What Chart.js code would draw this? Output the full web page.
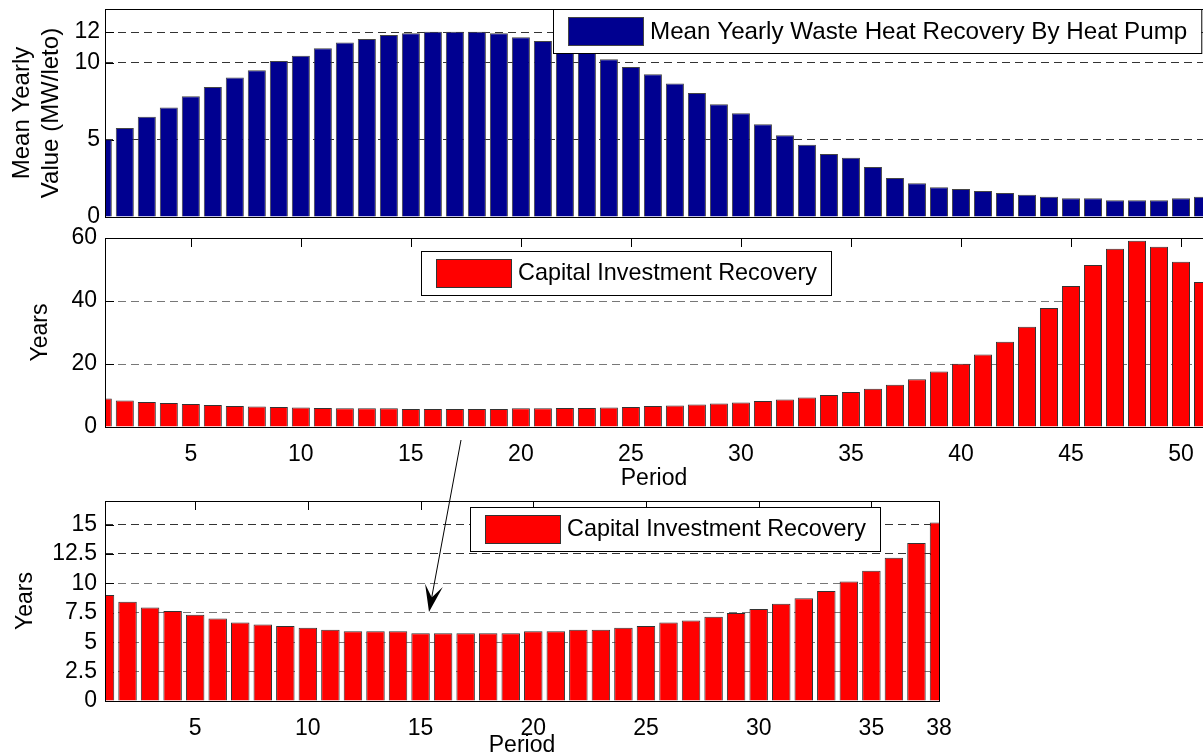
<!DOCTYPE html>
<html>
<head>
<meta charset="utf-8">
<script src="https://cdn.jsdelivr.net/npm/chart.js@4.4.0/dist/chart.umd.min.js"></script>
<style>
html, body { margin: 0; padding: 0; width: 1203px; height: 754px; overflow: hidden; background: #fff; }
canvas { position: absolute; left: 0; top: 0; }
</style>
</head>
<body>
<canvas id="heatChart" width="1203" height="780"></canvas>
<canvas id="recoveryChart" width="1203" height="780"></canvas>
<canvas id="zoomChart" width="1203" height="780"></canvas>
<script>
var periods = [1, 2, 3, 4, 5, 6, 7, 8, 9, 10, 11, 12, 13, 14, 15, 16, 17, 18, 19, 20,
    21, 22, 23, 24, 25, 26, 27, 28, 29, 30, 31, 32, 33, 34, 35, 36, 37, 38, 39, 40,
    41, 42, 43, 44, 45, 46, 47, 48, 49, 50, 51];

// MW/leto
var heatRecovery = [5.05, 5.78, 6.51, 7.10, 7.84, 8.44, 9.05, 9.53, 10.13, 10.47,
    10.95, 11.32, 11.56, 11.82, 11.93, 12.03, 12.03, 12.03, 11.93, 11.67,
    11.43, 11.1, 10.75, 10.24, 9.74, 9.27, 8.66, 8.05, 7.32, 6.73,
    6.02, 5.31, 4.69, 4.09, 3.85, 3.25, 2.53, 2.19, 1.93, 1.82,
    1.69, 1.56, 1.45, 1.32, 1.21, 1.21, 1.08, 1.08, 1.08, 1.21, 1.32];

// years
var capitalRecovery = [9.02, 8.43, 7.95, 7.64, 7.33, 7.02, 6.68, 6.51, 6.37, 6.23,
    6.06, 5.92, 5.92, 5.92, 5.75, 5.75, 5.75, 5.75, 5.75, 5.92,
    5.92, 6.06, 6.06, 6.23, 6.37, 6.68, 6.85, 7.16, 7.47, 7.81,
    8.26, 8.74, 9.36, 10.15, 11.08, 12.18, 13.42, 15.17, 17.6, 20.06,
    23.0, 27.1, 31.8, 37.8, 44.8, 51.4, 56.6, 59.1, 57.2, 52.5, 46.0];

var zoomPeriods = periods.slice(0, 38);
var zoomRecovery = capitalRecovery.slice(0, 38);

var heatTicks = [0, 5, 10, 12];
var yearTicks = [0, 20, 40, 60];
var zoomYearTicks = [0, 2.5, 5, 7.5, 10, 12.5, 15];
var periodTicks = [5, 10, 15, 20, 25, 30, 35, 40, 45, 50];
var zoomPeriodTicks = [5, 10, 15, 20, 25, 30, 35, 38];

var FONT = '"Liberation Sans", Arial, Helvetica, sans-serif';
Chart.defaults.font.family = FONT;
Chart.defaults.color = '#000';

function fixSize(prop, size) {
    return function (scale) {
        scale[prop] = size;
        scale.paddingTop = 0;
        scale.paddingBottom = 0;
        scale.paddingLeft = 0;
        scale.paddingRight = 0;
    };
}

function useTicks(values) {
    return function (scale) {
        scale.ticks = values.map(function (v) { return { value: v }; });
    };
}

function tickText(v) {
    return String(v);
}

// box, inward tick marks, boxed legend and the arrow (matlab look)
var framePlugin = {
    id: 'frame',
    beforeDatasetsDraw: function (chart, args, opts) {
        var a = chart.chartArea, ctx = chart.ctx;
        ctx.save();
        ctx.strokeStyle = '#000';
        ctx.lineWidth = 1;
        ctx.beginPath();
        if (opts.topTicks) {
            opts.topTicks.forEach(function (v) {
                var x = Math.round(chart.scales.x.getPixelForValue(v)) + 0.5;
                ctx.moveTo(x, a.top);
                ctx.lineTo(x, a.top + 9);
            });
        }
        chart.scales.y.ticks.forEach(function (t) {
            var y = Math.round(chart.scales.y.getPixelForValue(t.value)) + 0.5;
            ctx.moveTo(a.left, y);
            ctx.lineTo(a.left + 9, y);
            if (opts.rightTicks) {
                ctx.moveTo(a.right, y);
                ctx.lineTo(a.right - 9, y);
            }
        });
        ctx.stroke();
        ctx.restore();
    },
    afterDatasetsDraw: function (chart, args, opts) {
        var a = chart.chartArea, ctx = chart.ctx;
        ctx.save();
        ctx.strokeStyle = '#000';
        ctx.lineWidth = 1;
        ctx.strokeRect(Math.round(a.left) + 0.5, Math.round(a.top) + 0.5,
            Math.round(a.right - a.left), Math.round(a.bottom - a.top));

        // legend
        var ds = chart.data.datasets[0];
        var lx = opts.legendX, ly = opts.legendY, lh = 44;
        ctx.font = opts.legendFont + 'px ' + FONT;
        var tw = ctx.measureText(ds.label).width;
        var lw = 15 + 75 + 7 + tw + 14;
        ctx.fillStyle = '#fff';
        ctx.fillRect(lx, ly, lw, lh);
        ctx.strokeRect(lx + 0.5, ly + 0.5, lw, lh);
        ctx.fillStyle = ds.backgroundColor;
        ctx.fillRect(lx + 15, ly + 8, 75, 28);
        ctx.strokeStyle = ds.borderColor;
        ctx.strokeRect(lx + 15.5, ly + 8.5, 75, 28);
        ctx.fillStyle = '#000';
        ctx.textBaseline = 'middle';
        ctx.textAlign = 'left';
        ctx.fillText(ds.label, lx + 97, ly + lh / 2 + 1);
        ctx.restore();
    },
    afterDraw: function (chart, args, opts) {
        if (!opts.arrow) return;
        var ctx = chart.ctx;
        var p0 = opts.arrow.from, p1 = opts.arrow.to;
        var dx = p1[0] - p0[0], dy = p1[1] - p0[1];
        var len = Math.sqrt(dx * dx + dy * dy);
        var ux = dx / len, uy = dy / len, nx = -uy, ny = ux;
        var L = 27, W = 9;
        ctx.save();
        ctx.strokeStyle = '#000';
        ctx.fillStyle = '#000';
        ctx.lineWidth = 1;
        ctx.beginPath();
        ctx.moveTo(p0[0], p0[1]);
        ctx.lineTo(p1[0] - ux * 12, p1[1] - uy * 12);
        ctx.stroke();
        ctx.beginPath();
        ctx.moveTo(p1[0], p1[1]);
        ctx.lineTo(p1[0] - ux * L + nx * W, p1[1] - uy * L + ny * W);
        ctx.lineTo(p1[0] - ux * L * 0.55, p1[1] - uy * L * 0.55);
        ctx.lineTo(p1[0] - ux * L - nx * W, p1[1] - uy * L - ny * W);
        ctx.closePath();
        ctx.fill();
        ctx.restore();
    }
};

function barSet(label, values, fill, edge) {
    return {
        label: label,
        data: values,
        backgroundColor: fill,
        borderColor: edge,
        borderWidth: 1,
        barPercentage: 0.82,
        categoryPercentage: 1,
        clip: 0
    };
}

function yAxis(min, max, ticks, gridColor, title, titleSize, titlePad, tickPad) {
    return {
        min: min,
        max: max,
        afterBuildTicks: useTicks(ticks),
        afterFit: fixSize('width', 105),
        grid: { color: gridColor, drawTicks: false, lineWidth: 1 },
        border: { display: false, dash: [8, 5] },
        ticks: { padding: tickPad, font: { size: 23 }, callback: tickText },
        title: { display: true, text: title, font: { size: titleSize }, padding: { top: titlePad, bottom: 0 } }
    };
}

function xAxis(min, max, ticks, showLabels, height, titlePad) {
    return {
        type: 'linear',
        min: min,
        max: max,
        offset: false,
        afterBuildTicks: useTicks(ticks),
        afterFit: fixSize('height', height),
        grid: { display: false },
        border: { display: false },
        ticks: { display: showLabels, padding: 6, autoSkip: false, maxRotation: 0, font: { size: 23 }, callback: tickText },
        title: { display: showLabels, text: 'Period', font: { size: 23 }, padding: { top: 0, bottom: titlePad } }
    };
}

function baseOptions(padding, frame, scales) {
    return {
        responsive: false,
        animation: false,
        devicePixelRatio: 1,
        layout: { padding: padding },
        plugins: {
            legend: { display: false },
            tooltip: { enabled: false },
            frame: frame
        },
        scales: scales
    };
}

new Chart(document.getElementById('heatChart'), {
    type: 'bar',
    data: {
        labels: periods,
        datasets: [barSet('Mean Yearly Waste Heat Recovery By Heat Pump', heatRecovery, '#000090', '#444444')]
    },
    plugins: [framePlugin],
    options: baseOptions(
        { left: 0, right: 0, top: 9, bottom: 553 },
        { legendX: 553, legendY: 9, legendFont: 24.2 },
        {
            x: xAxis(1.1, 51, periodTicks, false, 10, 0),
            y: yAxis(0, 13.5, heatTicks, '#333333', ['Mean Yearly', 'Value (MW/leto)'], 24, 8, 5)
        })
});

new Chart(document.getElementById('recoveryChart'), {
    type: 'bar',
    data: {
        labels: periods,
        datasets: [barSet('Capital Investment Recovery', capitalRecovery, '#ff0000', '#333333')]
    },
    plugins: [framePlugin],
    options: baseOptions(
        { left: 0, right: 0, top: 238, bottom: 283 },
        { legendX: 421, legendY: 251, legendFont: 23.4, topTicks: periodTicks },
        {
            x: xAxis(1.1, 51, periodTicks, true, 70, 5),
            y: yAxis(0, 60, yearTicks, '#777777', 'Years', 23, 27, 8)
        })
});

new Chart(document.getElementById('zoomChart'), {
    type: 'bar',
    data: {
        labels: zoomPeriods,
        datasets: [barSet('Capital Investment Recovery', zoomRecovery, '#ff0000', '#333333')]
    },
    plugins: [framePlugin],
    options: baseOptions(
        { left: 0, right: 264, top: 501, bottom: 21 },
        {
            legendX: 470, legendY: 507, legendFont: 23.4, topTicks: zoomPeriodTicks, rightTicks: true,
            arrow: { from: [461, 440], to: [429, 612] }
        },
        {
            x: xAxis(1, 38, zoomPeriodTicks, true, 58, 0),
            y: yAxis(0, 17, zoomYearTicks, function (c) {
                return c.tick && c.tick.value >= 12.5 ? '#333333' : '#777777';
            }, 'Years', 23, 12, 8)
        })
});
</script>
</body>
</html>
